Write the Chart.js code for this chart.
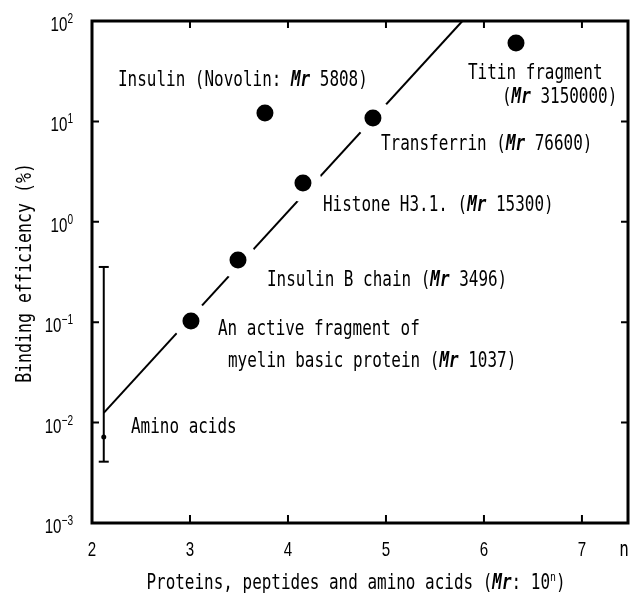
<!DOCTYPE html>
<html>
<head>
<meta charset="utf-8">
<script src="https://cdn.jsdelivr.net/npm/chart.js@4.4.1/dist/chart.umd.min.js"></script>
<style>
  html, body { margin: 0; padding: 0; background: #fff; overflow: hidden; }
  #wrap { width: 635px; height: 594px; position: relative; }
  canvas { display: block; }
</style>
</head>
<body>
<div id="wrap"><canvas id="myChart"></canvas></div>
<script>
// Data points: n (log10 Mr, as placed in the figure) and binding efficiency (%)
const names = ["Myelin fragment", "Insulin B chain", "Insulin (Novolin)", "Histone H3.1", "Transferrin", "Titin fragment"];
const nValues = [3.01, 3.49, 3.765, 4.153, 4.867, 6.327];
const efficiency = [0.103, 0.417, 12.1, 2.43, 10.8, 60.4];
// points lying on the fitted line (line is broken around them)
const onLine = [true, true, false, true, true, false];

// fitted line, end points
const fitN = [2.12, 5.78];
const fitEff = [0.0125, 100];

// amino acids: range bar
const aminoN = 2.12;
const aminoRange = [0.00408, 0.355];
const aminoMid = [0.0072];

// axis ticks
const xTicks = [2, 3, 4, 5, 6, 7];
const yExp = [-3, -2, -1, 0, 1, 2];
const supText = { "-3": "\u22123", "-2": "\u22122", "-1": "\u22121", "0": "0", "1": "1", "2": "2" };

// annotation texts, "@" marks the Mr symbol
const notes = [
  ["Insulin (Novolin: @ 5808)", 118, 86],
  ["Titin fragment", 468, 79],
  ["(@ 3150000)", 502, 103],
  ["Transferrin (@ 76600)", 381, 150],
  ["Histone H3.1. (@ 15300)", 323, 211],
  ["Insulin B chain (@ 3496)", 267, 286],
  ["An active fragment of", 218, 335],
  ["myelin basic protein (@ 1037)", 228, 367],
  ["Amino acids", 131, 433],
];

const LBL = "21px 'DejaVu Sans Mono'";
const MR = "italic bold 21px 'DejaVu Sans Mono'";
const SUPN = "13px 'DejaVu Sans Mono'";
const TICK = "21px 'Liberation Sans'";
const SUP = "14px 'Liberation Sans'";

// рисует текст из кусков, сжатый по горизонтали
function drawRich(ctx, parts, x, y, opts) {
  const sx = opts.sx || 1;
  let w = 0;
  parts.forEach((p) => {
    ctx.font = p.font;
    w += ctx.measureText(p.t).width;
  });
  ctx.save();
  ctx.translate(x, y);
  if (opts.rotate) ctx.rotate(opts.rotate);
  ctx.scale(sx, 1);
  let cx = opts.align === "center" ? -w / 2 : opts.align === "right" ? -w : 0;
  ctx.textBaseline = "alphabetic";
  ctx.textAlign = "left";
  ctx.fillStyle = "#000";
  parts.forEach((p) => {
    ctx.font = p.font;
    ctx.fillText(p.t, cx, p.dy || 0);
    cx += ctx.measureText(p.t).width;
  });
  ctx.restore();
}

function noteParts(text) {
  const bits = text.split("@");
  const parts = [];
  bits.forEach((b, i) => {
    if (i > 0) parts.push({ t: "Mr", font: MR });
    if (b) parts.push({ t: b, font: LBL });
  });
  return parts;
}

const frame = {
  id: "frame",
  afterDraw(chart) {
    const { ctx, chartArea: { left, top, right, bottom }, scales: { x, y } } = chart;
    ctx.save();
    ctx.strokeStyle = "#000";
    ctx.lineWidth = 2;
    xTicks.forEach((v) => {
      const px = x.getPixelForValue(v);
      ctx.beginPath();
      ctx.moveTo(px, bottom);
      ctx.lineTo(px, bottom - 8);
      ctx.moveTo(px, top);
      ctx.lineTo(px, top + 7);
      ctx.stroke();
    });
    yExp.forEach((e) => {
      const py = y.getPixelForValue(Math.pow(10, e));
      ctx.beginPath();
      ctx.moveTo(left, py);
      ctx.lineTo(left + 7, py);
      ctx.moveTo(right, py);
      ctx.lineTo(right - 7, py);
      ctx.stroke();
    });
    ctx.lineWidth = 3;
    ctx.strokeRect(left, top, right - left, bottom - top);
    ctx.restore();

    // tick labels
    xTicks.forEach((v) => {
      drawRich(ctx, [{ t: String(v), font: TICK }], x.getPixelForValue(v), bottom + 33, { sx: 0.72, align: "center" });
    });
    drawRich(ctx, [{ t: "n", font: LBL }], 624, bottom + 33, { sx: 0.76, align: "center" });
    yExp.forEach((e) => {
      const py = y.getPixelForValue(Math.pow(10, e));
      drawRich(ctx, [{ t: "10", font: TICK }, { t: supText[e], font: SUP, dy: -8 }], 73, py + 10, { sx: 0.72, align: "right" });
    });

    // annotations
    notes.forEach(([t, nx, ny]) => {
      drawRich(ctx, noteParts(t), nx, ny, { sx: 0.76 });
    });

    // axis titles
    drawRich(ctx, [
      { t: "Proteins, peptides and amino acids (", font: LBL },
      { t: "Mr", font: MR },
      { t: ": 10", font: LBL },
      { t: "n", font: SUPN, dy: -8 },
      { t: ")", font: LBL },
    ], 356, 589, { sx: 0.76, align: "center" });
    drawRich(ctx, [{ t: "Binding efficiency (%)", font: LBL }], 31, 273, { sx: 0.79, align: "center", rotate: -Math.PI / 2 });
  },
};

const points = nValues.map((n, i) => ({ x: n, y: efficiency[i] }));
const halos = points.filter((p, i) => onLine[i]);

new Chart(document.getElementById("myChart"), {
  type: "scatter",
  plugins: [frame],
  data: {
    datasets: [
      {
        label: "proteins",
        data: points,
        backgroundColor: "#000",
        borderWidth: 0,
        pointRadius: 8.5,
        order: 0,
      },
      {
        label: "gaps",
        data: halos,
        backgroundColor: "#fff",
        borderWidth: 0,
        pointRadius: 19,
        order: 1,
      },
      {
        label: "fit",
        data: fitN.map((n, i) => ({ x: n, y: fitEff[i] })),
        showLine: true,
        borderColor: "#000",
        borderWidth: 2,
        pointRadius: 0,
        order: 2,
      },
      {
        label: "amino acids",
        data: aminoRange.map((v) => ({ x: aminoN, y: v })),
        showLine: true,
        borderColor: "#000",
        borderWidth: 2,
        pointStyle: "line",
        pointRadius: 5,
        pointBorderWidth: 2,
        pointBorderColor: "#000",
        order: 3,
      },
      {
        label: "amino mid",
        data: aminoMid.map((v) => ({ x: aminoN, y: v })),
        backgroundColor: "#000",
        borderWidth: 0,
        pointRadius: 2.5,
        order: 0,
      },
    ],
  },
  options: {
    responsive: true,
    maintainAspectRatio: false,
    animation: false,
    layout: { autoPadding: false, padding: { left: 92, top: 21, right: 7, bottom: 71 } },
    plugins: {
      legend: { display: false },
      tooltip: { enabled: false },
    },
    scales: {
      x: { type: "linear", min: 2, max: 7.47, display: false },
      y: { type: "logarithmic", min: 0.001, max: 100, display: false },
    },
  },
});
</script>
</body>
</html>
